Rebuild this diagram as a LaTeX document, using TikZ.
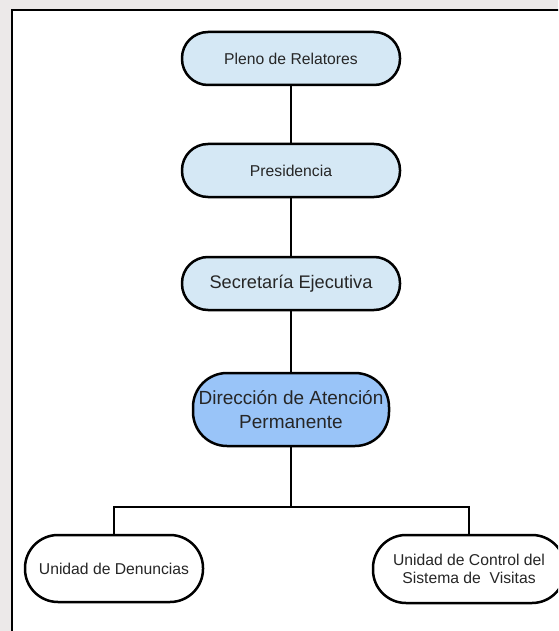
\documentclass[tikz,border=0pt]{standalone}
\usepackage{fontspec}
\setmainfont{Liberation Sans}
\usetikzlibrary{shapes,arrows}

\definecolor{paleblue}{RGB}{213,232,245}
\definecolor{midblue}{RGB}{153,196,248}
\definecolor{backgray}{RGB}{236,233,233}

\begin{document}
\begin{tikzpicture}[x=1pt,y=-1pt,line width=2.5pt,
    unit/.style={draw, rectangle, rounded corners=26pt, minimum width=218pt, minimum height=53pt, inner sep=0pt, fill=paleblue, text=black!85, font=\fontsize{15.7}{18.3}\selectfont},
    head/.style={unit, rounded corners=34pt, minimum width=196pt, minimum height=73pt, fill=midblue, align=center, font=\fontsize{19}{23.3}\selectfont},
    leaf/.style={unit, rounded corners=33pt, minimum height=67pt, fill=white, align=center}]
        \useasboundingbox (0,0) rectangle (558,631);
        \clip (0,0) rectangle (558,631);
        \fill[backgray] (0,0) rectangle (558,631);
        \fill[white] (12,10) rectangle (570,640);
        \draw[line width=2pt] (12,640) -- (12,10) -- (570,10);
        \node[unit] (pleno) at (291,58.5) {Pleno de Relatores};
        \node[unit] (pres) at (291,170.5) {Presidencia};
        \node[unit, font=\fontsize{18.2}{21}\selectfont] (secr) at (291,283.5) {Secretaría Ejecutiva};
        \node[head] (dir) at (291,409.5) {Dirección de Atención\\Permanente};
        \node[leaf, minimum width=178pt] (den) at (114,568.5) {Unidad de Denuncias};
        \node[leaf, minimum width=192pt, minimum height=68pt] (ctrl) at (469,569) {Unidad de Control del\\Sistema de \ Visitas};
        \coordinate (split) at (291,507);
        \draw (pleno) -- (pres);
        \draw (pres) -- (secr);
        \draw (secr) -- (dir);
        \draw (dir) -- (split);
        \draw (den.north) |- (split) -| (ctrl.north);
    \end{tikzpicture}
\end{document}
